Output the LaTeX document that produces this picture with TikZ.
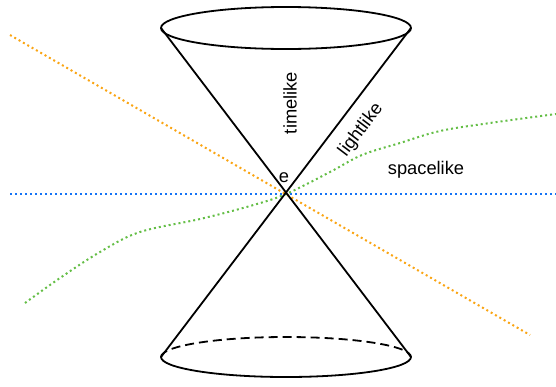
\documentclass[tikz,border=0pt]{standalone}
\usepackage{fontspec}
\setmainfont{Liberation Sans}
\usetikzlibrary{positioning, calc}
\definecolor{colTime}{RGB}{250,165,20}
\definecolor{colSpace}{RGB}{20,115,245}
\definecolor{colWorld}{RGB}{100,190,70}
\tikzset{
  cone/.style={line width=1.8pt, color=black},
  world/.style={line width=2pt, dash pattern=on 2pt off 3pt},
  label/.style={font=\fontsize{18.3}{20}\selectfont, inner sep=0pt}
}

\begin{document}
\begin{tikzpicture}[x=1pt, y=-1pt]
  \useasboundingbox (0,0) rectangle (556,386);

  % event and cone rims
  \coordinate (e) at (286,194);
  \coordinate (topL) at (161,28);
  \coordinate (topR) at (411,28);
  \coordinate (botL) at (161,357);
  \coordinate (botR) at (411,357);
  \coordinate (top) at (286,28);

  % dotted lines through e
  \coordinate (timeA) at (10,35);
  \coordinate (timeB) at (530,335);
  \coordinate (spaceA) at (10,194);
  \coordinate (spaceB) at (556,194);
  \draw[world, colTime] (timeA) -- (timeB);
  \draw[world, colSpace] (spaceA) -- (spaceB);
  \draw[world, colWorld] plot[smooth, tension=0.6] coordinates {
    (25,303) (60,278) (100,252) (140,232) (200,219) (250,206) (286,194)
    (330,172) (362,155) (400,143) (440,131) (490,123) (556,114)};

  % light cone
  \draw[cone] (topL) -- (botR);
  \draw[cone] (topR) -- (botL);
  \draw[cone] (top) ellipse[x radius=125pt, y radius=21pt];
  \draw[cone] (botL) arc[start angle=180, end angle=360, x radius=125pt, y radius=20pt];
  \draw[cone, dash pattern=on 9pt off 5pt] (botL) arc[start angle=180, end angle=0, x radius=125pt, y radius=20pt];

  % labels
  \node[label, above=11pt of e, xshift=-2pt] (eLabel) {e};
  \node[label, rotate=90] (timelike) at (290,103) {timelike};
  \node[label, rotate=52.9] (lightlike) at (361,130) {lightlike};
  \node[label] (spacelike) at (426,170) {spacelike};

\end{tikzpicture}
\end{document}
